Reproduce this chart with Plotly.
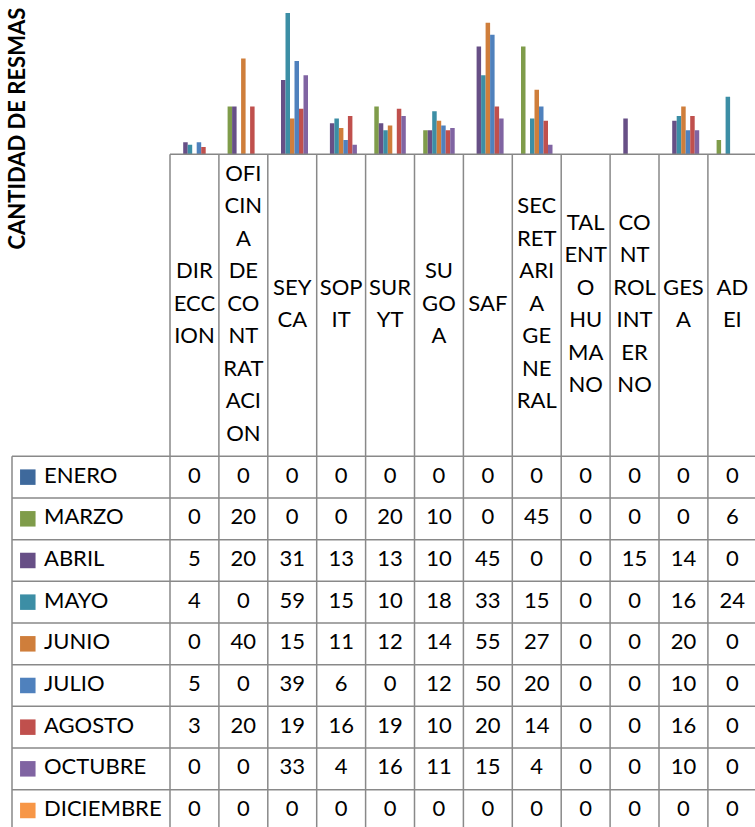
import plotly.graph_objects as go

# ---------------- data ----------------
categories = ["DIRECCION", "OFICINA DE CONTRATACION", "SEYCA", "SOPIT", "SURYT",
              "SUGOA", "SAF", "SECRETARIA GENERAL", "TALENTO HUMANO",
              "CONTROL INTERNO", "GESA", "ADEI"]
category_label_lines = [
    ["DIR", "ECC", "ION"],
    ["OFI", "CIN", "A", "DE", "CO", "NT", "RAT", "ACI", "ON"],
    ["SEY", "CA"],
    ["SOP", "IT"],
    ["SUR", "YT"],
    ["SU", "GO", "A"],
    ["SAF"],
    ["SEC", "RET", "ARI", "A", "GE", "NE", "RAL"],
    ["TAL", "ENT", "O", "HU", "MA", "NO"],
    ["CO", "NT", "ROL", "INT", "ER", "NO"],
    ["GES", "A"],
    ["AD", "EI"],
]
months = ["ENERO", "MARZO", "ABRIL", "MAYO", "JUNIO", "JULIO", "AGOSTO",
          "OCTUBRE", "DICIEMBRE"]
enero     = [0, 0, 0, 0, 0, 0, 0, 0, 0, 0, 0, 0]
marzo     = [0, 20, 0, 0, 20, 10, 0, 45, 0, 0, 0, 6]
abril     = [5, 20, 31, 13, 13, 10, 45, 0, 0, 15, 14, 0]
mayo      = [4, 0, 59, 15, 10, 18, 33, 15, 0, 0, 16, 24]
junio     = [0, 40, 15, 11, 12, 14, 55, 27, 0, 0, 20, 0]
julio     = [5, 0, 39, 6, 0, 12, 50, 20, 0, 0, 10, 0]
agosto    = [3, 20, 19, 16, 19, 10, 20, 14, 0, 0, 16, 0]
octubre   = [0, 0, 33, 4, 16, 11, 15, 4, 0, 0, 10, 0]
diciembre = [0, 0, 0, 0, 0, 0, 0, 0, 0, 0, 0, 0]
series_values = [enero, marzo, abril, mayo, junio, julio, agosto, octubre, diciembre]
colors = ["#3E699C", "#7F9C4A", "#674F86", "#3C8EA5", "#CF7E3B",
          "#4F81BD", "#C0504D", "#8064A2", "#F79646"]
y_title = "CANTIDAD DE RESMAS"

# ---------------- layout geometry (pixels) ----------------
W, H = 755, 827
AXIS_Y = 154.3          # baseline of bars, top of the data table
X0 = 170.0              # left edge of first category column
COL_W = 48.9            # width of a category column
PX_PER_UNIT = 2.393     # bar scale
HEADER_H = 302.0        # height of header row of the table
ROW_H = 41.67           # data-table row height
LEG_LEFT = 12.0         # left edge of legend column
LINE_SP = 32.5          # header label line spacing
FONT = "Lato"
GRID = "#898989"

def px_to_x(px):
    return -0.5 + (px - X0) / COL_W

x_range = [px_to_x(0), px_to_x(W)]
ncat = len(categories)
xs = list(range(ncat))

fig = go.Figure()

# bars
for name, vals, col in zip(months, series_values, colors):
    fig.add_trace(go.Bar(x=xs, y=vals, name=name, marker=dict(color=col, line=dict(width=0)),
                         xaxis="x", yaxis="y", showlegend=False, hoverinfo="name+y"))

# header text (category labels)
hx, hy, ht = [], [], []
hc = HEADER_H / 2
for i, lines in enumerate(category_label_lines):
    n = len(lines)
    for j, t in enumerate(lines):
        hx.append(i)
        hy.append(hc + (j - (n - 1) / 2) * LINE_SP)
        ht.append(t)
fig.add_trace(go.Scatter(x=hx, y=hy, text=ht, mode="text", xaxis="x", yaxis="y2",
                         textfont=dict(family=FONT, size=22, color="#000000"),
                         textposition="middle center", showlegend=False,
                         hoverinfo="skip", cliponaxis=False))

def row_center(r):
    return HEADER_H + (r + 0.5) * ROW_H

# table values
for r, vals in enumerate(series_values):
    fig.add_trace(go.Scatter(x=xs, y=[row_center(r)] * ncat, text=[str(v) for v in vals],
                             mode="text", xaxis="x", yaxis="y2",
                             textfont=dict(family=FONT, size=22, color="#000000"),
                             textposition="middle center", showlegend=False,
                             hoverinfo="skip", cliponaxis=False))

# legend keys inside table
sq_x = px_to_x(27.8)
fig.add_trace(go.Scatter(x=[sq_x] * len(months), y=[row_center(r) for r in range(len(months))],
                         mode="markers", xaxis="x", yaxis="y2",
                         marker=dict(symbol="square", size=15.5, color=colors, line=dict(width=0)),
                         showlegend=False, hoverinfo="skip", cliponaxis=False))

annotations = []
for r, m in enumerate(months):
    annotations.append(dict(x=px_to_x(41.5), y=row_center(r), xref="x", yref="y2",
                            text=m, showarrow=False, xanchor="left", yanchor="middle",
                            yshift=3,
                            font=dict(family=FONT, size=22, color="#000000")))

annotations.append(dict(x=16.5 / W, y=1 - 129 / H, xref="paper", yref="paper",
                        text="<b>" + y_title + "</b>", textangle=-90, showarrow=False,
                        xanchor="center", yanchor="middle",
                        font=dict(family=FONT, size=22, color="#000000")))

# table lines
shapes = []
table_bottom = H - AXIS_Y
line = dict(color=GRID, width=1.5)
# baseline / top border of table
shapes.append(dict(type="line", xref="x", yref="y2", x0=-0.5, x1=ncat - 0.5, y0=0, y1=0,
                   line=dict(color="#868686", width=1.6)))
# vertical column borders
for k in range(ncat + 1):
    shapes.append(dict(type="line", xref="x", yref="y2", x0=k - 0.5, x1=k - 0.5,
                       y0=0, y1=table_bottom, line=line))
# legend column left border
shapes.append(dict(type="line", xref="x", yref="y2", x0=px_to_x(LEG_LEFT), x1=px_to_x(LEG_LEFT),
                   y0=HEADER_H, y1=table_bottom, line=line))
# horizontal row borders
for r in range(len(months) + 1):
    yy = HEADER_H + r * ROW_H
    shapes.append(dict(type="line", xref="x", yref="y2", x0=px_to_x(LEG_LEFT), x1=ncat - 0.5,
                       y0=yy, y1=yy, line=line))

fig.update_layout(
    width=W, height=H,
    margin=dict(l=0, r=0, t=0, b=0, pad=0),
    paper_bgcolor="white", plot_bgcolor="rgba(0,0,0,0)",
    barmode="group", bargap=0.172, bargroupgap=0,
    showlegend=False,
    xaxis=dict(domain=[0, 1], range=x_range, showticklabels=False, showgrid=False,
               zeroline=False, showline=False, ticks="", fixedrange=True),
    yaxis=dict(domain=[1 - AXIS_Y / H, 1], range=[0, AXIS_Y / PX_PER_UNIT],
               showticklabels=False, showgrid=False, zeroline=False, showline=False,
               ticks="", anchor="x"),
    yaxis2=dict(domain=[0, 1], range=[H - AXIS_Y, -AXIS_Y], showticklabels=False,
                showgrid=False, zeroline=False, showline=False, ticks="", anchor="x"),
    shapes=shapes,
    annotations=annotations,
)

fig.write_html("out.html", config={"displayModeBar": False},
               post_script="document.body.style.margin='0';document.body.style.overflow='hidden';")
